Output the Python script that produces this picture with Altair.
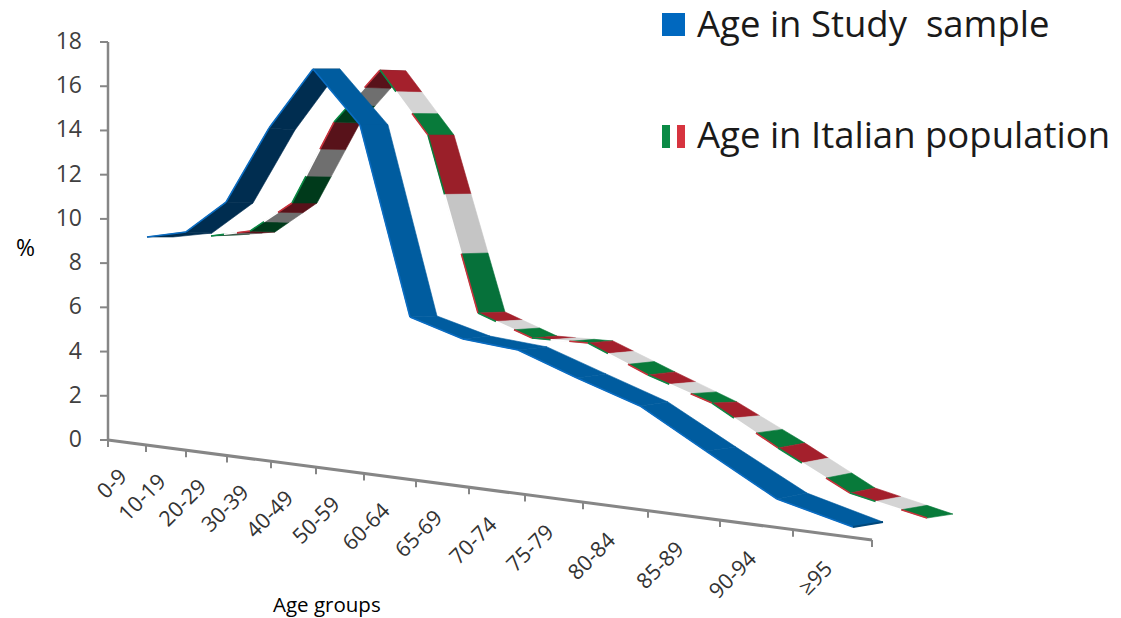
import altair as alt
import pandas as pd

categories = ["0-9", "10-19", "20-29", "30-39", "40-49", "50-59", "60-64", "65-69",
              "70-74", "75-79", "80-84", "85-89", "90-94", "≥95"]
y_ticks = [0, 2, 4, 6, 8, 10, 12, 14, 16, 18]

# Projected horizontal position of each category boundary on the slanted floor axis
floor_x = [108, 146, 186, 227, 271, 316, 364, 416, 469, 525, 583, 648, 720, 793, 872]

# Study sample ribbon: near edge and far edge as read against the % axis
study_near_x = [147, 186, 226, 269, 313, 360, 410, 463, 518, 577, 640, 706, 777, 853]
study_near = [9.18, 9.41, 10.76, 14.11, 16.78, 14.25, 5.56, 4.57, 4.07, 2.80, 1.54, -0.50, -2.67, -3.93]
study_far_x = [173, 212, 253, 295, 340, 388, 437, 490, 547, 606, 668, 736, 807, 883]
study_far = [9.18, 9.36, 10.72, 14.02, 16.78, 14.25, 5.61, 4.70, 4.21, 2.99, 1.72, -0.32, -2.40, -3.71]

# Italian population ribbon
italy_near_x = [211, 250, 292, 334, 380, 428, 478, 532, 588, 648, 712, 778, 850, 927]
italy_near = [9.23, 9.45, 10.72, 14.38, 16.73, 13.79, 5.74, 4.61, 4.39, 2.94, 1.67, -0.36, -2.40, -3.53]
italy_far_x = [237, 275, 317, 360, 406, 454, 505, 557, 613, 675, 737, 805, 875, 953]
italy_far = [9.27, 9.41, 10.72, 14.34, 16.69, 13.79, 5.79, 4.70, 4.48, 3.08, 1.72, -0.14, -2.17, -3.35]

BLUE_TOP, BLUE_UNDER, BLUE_EDGE = "#005c9f", "#002d50", "#0a6cc2"
AXIS = "#868686"
FONT = "Open Sans"
PX = 22.11      # pixels per percentage point
W, H = 1105, 610
Y0 = 440        # page row of 0 %


def lerp(a, b, t):
    return a + (b - a) * t


study_rows, edge_rows, italy_rows, italy_edges = [], [], [], []
for k in range(13):
    rising = k < 4
    col = BLUE_UNDER if rising else BLUE_TOP
    pts = [(study_near_x[k], study_near[k]), (study_near_x[k + 1], study_near[k + 1]),
           (study_far_x[k + 1], study_far[k + 1]), (study_far_x[k], study_far[k])]
    for o, (x, y) in enumerate(pts):
        study_rows.append(dict(x=x, y=y, o=o, poly=f"s{k:02d}", c=col))
    for o, (x, y) in enumerate(pts[:2]):
        edge_rows.append(dict(x=x, y=y, o=o, poly=f"e{k:02d}", c=BLUE_EDGE))

    if rising:
        stripes = [("#003a1b", "#0a8a45"), ("#6f6f6f", "#ffffff"), ("#58121a", "#c8323c")]
    elif k == 5:
        stripes = [("#9a1f29", "#0a7d3c"), ("#c5c5c5", "#ffffff"), ("#06713a", "#c8323c")]
    else:
        stripes = [("#a4202c", "#0a8a45"), ("#d4d4d4", "#ffffff"), ("#087a3a", "#c8323c")]
    for s, (fill, edge_col) in enumerate(stripes):
        t0, t1 = s / 3, (s + 1) / 3
        quad = [
            (lerp(italy_near_x[k], italy_near_x[k + 1], t0), lerp(italy_near[k], italy_near[k + 1], t0)),
            (lerp(italy_near_x[k], italy_near_x[k + 1], t1), lerp(italy_near[k], italy_near[k + 1], t1)),
            (lerp(italy_far_x[k], italy_far_x[k + 1], t1), lerp(italy_far[k], italy_far[k + 1], t1)),
            (lerp(italy_far_x[k], italy_far_x[k + 1], t0), lerp(italy_far[k], italy_far[k + 1], t0)),
        ]
        for o, (x, y) in enumerate(quad):
            italy_rows.append(dict(x=x, y=y, o=o, poly=f"i{k:02d}{s}", c=fill))
        for o, (x, y) in enumerate(quad[:2]):
            italy_edges.append(dict(x=x, y=y, o=o, poly=f"j{k:02d}{s}", c=edge_col))

# darker end face of the study ribbon
end_rows = [
    dict(x=study_near_x[-1], y=study_near[-1], o=0, poly="z0", c="#00487c"),
    dict(x=study_far_x[-1], y=study_far[-1], o=1, poly="z0", c="#00487c"),
]

x_scale = alt.Scale(domain=[8, 8 + W], range=[0, W])
y_scale = alt.Scale(domain=[(Y0 - 8 - H) / PX, (Y0 - 8) / PX], range=[H, 0])
X = alt.X("x:Q", scale=x_scale, axis=None)
Y = alt.Y("y:Q", scale=y_scale, axis=None)


def ribbon(rows):
    return alt.Chart(pd.DataFrame(rows)).mark_line(
        interpolate="linear-closed", strokeWidth=0.6
    ).encode(
        x=X, y=Y, order="o:Q", detail="poly:N",
        fill=alt.Fill("c:N", scale=None, legend=None),
        stroke=alt.Stroke("c:N", scale=None, legend=None),
    )


def edge(rows, width):
    return alt.Chart(pd.DataFrame(rows)).mark_line(strokeWidth=width).encode(
        x=X, y=Y, order="o:Q", detail="poly:N",
        stroke=alt.Stroke("c:N", scale=None, legend=None),
    )


def floor_y(x):
    return -(x - floor_x[0]) * (100 / 764) / PX


floor_line = alt.Chart(pd.DataFrame(
    [dict(x=floor_x[0], y=floor_y(floor_x[0]), o=0), dict(x=floor_x[-1], y=floor_y(floor_x[-1]), o=1)]
)).mark_line(color=AXIS, strokeWidth=3).encode(x=X, y=Y, order="o:Q")

floor_ticks = alt.Chart(pd.DataFrame(
    [dict(x=v, y=floor_y(v), y2=floor_y(v) - 7 / PX) for v in floor_x]
)).mark_rule(color=AXIS, strokeWidth=2).encode(x=X, y=Y, y2="y2:Q")

label_rows = []
for i, name in enumerate(categories):
    mid = (floor_x[i] + floor_x[i + 1]) / 2
    label_rows.append(dict(x=mid - 3, y=floor_y(mid) - 31 / PX, t=name))
floor_labels = alt.Chart(pd.DataFrame(label_rows)).mark_text(
    angle=315, align="right", baseline="middle", font=FONT, fontSize=21.5, color="#333333"
).encode(x=X, y=Y, text="t:N")

value_axis = alt.Chart(pd.DataFrame([dict(x=floor_x[0], y=0, y2=18)])).mark_rule(
    color=AXIS, strokeWidth=2.5
).encode(x=X, y=Y, y2="y2:Q")

value_ticks = alt.Chart(pd.DataFrame(
    [dict(x=100, x2=floor_x[0], y=v) for v in y_ticks]
)).mark_rule(color=AXIS, strokeWidth=2).encode(x=X, x2="x2:Q", y=Y)

value_labels = alt.Chart(pd.DataFrame([dict(x=82, y=v, t=str(v)) for v in y_ticks])).mark_text(
    align="right", baseline="middle", font=FONT, fontSize=23, color="#404040"
).encode(x=X, y=Y, text="t:N")


def text_layer(x, y, s, size, color="#000000"):
    return alt.Chart(pd.DataFrame([dict(x=x, y=(Y0 - y) / PX, t=s)])).mark_text(
        align="left", baseline="alphabetic", font=FONT, fontSize=size, color=color
    ).encode(x=X, y=Y, text="t:N")


percent = text_layer(16, 256, "%", 23)
xtitle = text_layer(273, 612, "Age groups", 20.5)
leg1 = text_layer(697, 37, "Age in Study\u00a0 sample", 36.5, "#1a1a1a")
leg2 = text_layer(697, 148, "Age in Italian population", 36.5, "#1a1a1a")

swatches = pd.DataFrame([
    dict(x=662, x2=685, y=(Y0 - 13) / PX, y2=(Y0 - 36) / PX, c="#0068bf"),
    dict(x=662, x2=670, y=(Y0 - 125) / PX, y2=(Y0 - 148) / PX, c="#0a8a45"),
    dict(x=670, x2=677, y=(Y0 - 125) / PX, y2=(Y0 - 148) / PX, c="#ffffff"),
    dict(x=677, x2=685, y=(Y0 - 125) / PX, y2=(Y0 - 148) / PX, c="#d7343f"),
])
legend_swatches = alt.Chart(swatches).mark_rect().encode(
    x=X, x2="x2:Q", y=Y, y2="y2:Q", fill=alt.Fill("c:N", scale=None, legend=None)
)

chart = alt.layer(
    value_axis, value_ticks, value_labels, floor_line, floor_ticks, floor_labels,
    ribbon(italy_rows), edge(italy_edges, 1.6),
    ribbon(study_rows), edge(edge_rows, 1.6), edge(end_rows, 2),
    percent, xtitle, leg1, leg2, legend_swatches,
).properties(
    width=W, height=H, padding=0, autosize=alt.AutoSizeParams(type="none"),
    background="#ffffff",
).configure_view(stroke=None)

chart.save("out.html", embed_options={"renderer": "svg", "actions": False})
